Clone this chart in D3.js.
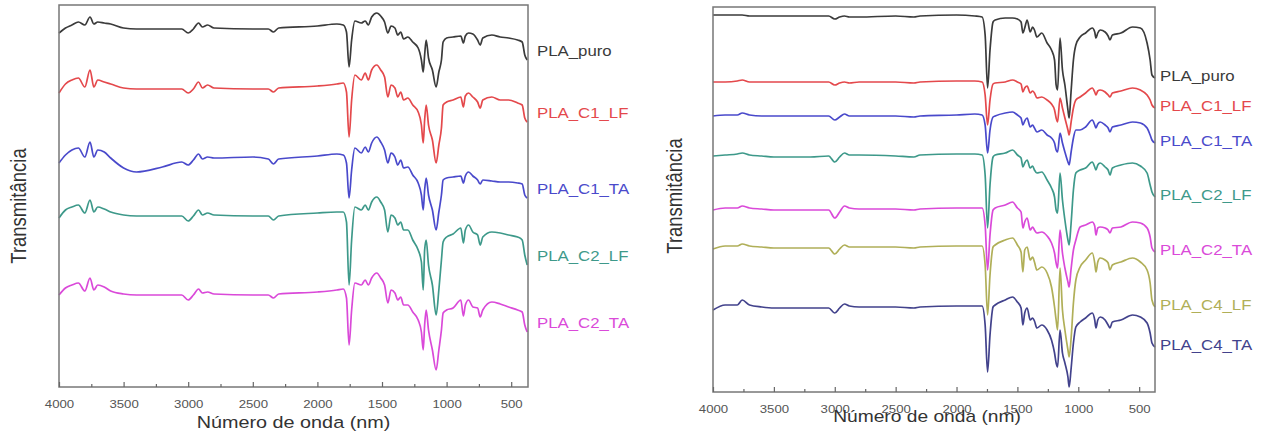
<!DOCTYPE html>
<html><head><meta charset="utf-8">
<script src="https://cdn.jsdelivr.net/npm/d3@7"></script>
<style>body{margin:0;background:#fff} svg{display:block} text{font-family:"Liberation Sans",Arial,sans-serif}</style>
</head><body><svg id="c" width="1269" height="438"></svg>
<script>
// ---------- DATA (transmittance, arbitrary units incl. vertical offset) ----------
const wnLeft = [4000,3950,3900,3850,3800,3760,3730,3700,3650,3600,3500,3400,3200,3050,3000,2960,2920,2890,2850,2800,2500,2380,2340,2300,2000,1850,1800,1775,1755,1735,1710,1660,1630,1606,1580,1540,1510,1480,1455,1430,1400,1378,1355,1333,1300,1262,1220,1195,1181,1170,1158,1140,1110,1081,1060,1040,1027,1000,950,890,870,855,830,797,760,740,720,650,585,520,450,415,395,376];
const leftPuro = [354,359,362,365,362,370,363,365,364,363,359,358,358,358,354,358,364,360,362,359,358,358,355,359,361,363,362,355,320,347,366,364,366,362,370,374,371,365,354,361,359,352,355,348,350,345,339,327,315,332,347,329,317,300,315,327,345,349,350,351,344,351,354,353,347,342,349,352,350,349,347,345,332,327];
const leftC1LF = [294,303,307,309,300,317,300,307,305,303,299,298,298,298,294,298,305,299,302,299,298,298,295,299,301,303,304,295,250,287,312,307,314,307,317,322,317,310,290,302,299,290,295,287,289,282,275,262,244,267,282,262,247,224,242,259,282,285,287,290,280,291,294,290,285,279,287,290,287,287,284,282,269,265];
const leftC1TA = [224,232,237,239,230,245,230,237,235,229,219,215,220,225,222,227,233,228,230,229,230,228,223,228,231,233,232,224,189,217,239,234,240,235,244,250,245,237,224,234,230,222,227,219,220,212,204,192,177,197,209,192,177,157,175,192,207,209,210,211,204,211,215,211,207,203,207,206,205,205,204,203,192,189];
const leftC2LF = [169,177,180,182,174,187,175,180,178,175,172,171,171,171,166,171,177,172,174,172,171,171,167,171,174,175,175,165,102,147,180,177,182,177,185,190,185,177,155,172,169,162,165,157,157,147,137,125,97,137,147,122,102,72,97,127,145,150,153,159,144,157,162,155,152,142,150,155,154,152,150,147,132,122];
const leftC2TA = [92,99,102,104,96,109,97,102,100,96,93,92,92,92,87,92,98,94,95,93,92,92,89,93,95,97,98,89,42,77,104,102,107,102,109,114,109,102,84,97,94,87,90,82,82,75,67,55,37,62,77,57,37,17,37,57,74,77,79,87,71,82,87,80,79,70,77,85,83,80,77,75,62,55];

const wnRight = [4000,3900,3800,3760,3700,3600,3500,3200,3050,3000,2960,2920,2880,2800,2500,2350,2300,2000,1850,1790,1765,1745,1725,1700,1683,1600,1540,1500,1470,1455,1440,1420,1395,1375,1360,1340,1300,1256,1220,1195,1182,1170,1150,1130,1110,1085,1075,1060,1040,1020,985,940,885,865,855,840,820,780,755,740,720,650,555,490,435,410,395,370];
const rightPuro = [377,377,377,377,376,376,376,376,376,373,375,376,375,375,376,375,376,377,376,375,357,304,342,370,372,374,374,373,370,359,364,372,360,365,362,355,359,349,342,332,307,302,354,322,307,282,274,299,332,347,355,359,364,360,354,359,362,360,356,352,357,359,365,364,349,332,317,314];
const rightC1LF = [310,310,311,312,310,310,310,310,310,307,309,310,309,310,310,309,310,311,311,310,297,267,292,308,309,310,312,310,308,300,304,306,299,301,299,294,295,292,288,282,274,270,294,284,274,262,257,269,284,292,295,299,304,300,297,301,302,300,297,295,299,301,304,302,297,292,287,284];
const rightC1TA = [276,277,277,279,277,276,276,276,276,272,275,278,276,276,276,275,276,277,278,277,267,239,262,275,276,279,280,277,274,267,271,274,265,267,264,260,262,257,254,249,242,240,259,249,240,230,227,239,254,262,262,265,272,267,264,268,270,267,264,260,265,267,270,269,264,257,252,249];
const rightC2LF = [236,237,238,239,237,236,235,235,236,230,235,239,237,237,236,235,237,238,238,237,217,164,207,235,237,239,242,237,234,225,229,232,224,226,222,219,220,212,204,195,182,179,219,192,172,152,147,167,202,219,222,224,230,225,222,227,229,225,222,217,224,227,229,226,219,207,200,195];
const rightC2TA = [182,184,184,186,184,183,182,182,182,174,180,186,184,183,183,182,183,184,184,184,167,122,157,182,184,187,190,184,180,164,170,174,162,165,162,159,160,156,149,139,129,124,162,139,124,110,105,122,142,152,165,167,170,166,157,164,165,164,162,159,164,165,170,169,164,155,144,140];
const rightC4LF = [143,146,146,148,146,145,144,144,144,138,143,147,145,145,145,144,145,146,146,146,127,77,117,145,147,152,154,147,140,120,142,145,132,135,130,122,125,119,105,85,72,62,124,82,62,42,35,52,89,112,125,132,139,129,120,130,134,132,129,122,127,130,134,130,122,109,92,85];
const rightC4TA = [82,87,87,92,87,85,84,84,84,79,84,88,86,85,85,84,85,86,86,86,67,20,57,85,87,92,95,90,84,67,79,84,72,74,71,64,67,62,52,39,29,25,62,39,29,15,5,22,49,65,70,74,79,72,64,72,75,72,67,64,70,72,77,75,69,59,49,45];

const leftNames = ["PLA_puro","PLA_C1_LF","PLA_C1_TA","PLA_C2_LF","PLA_C2_TA"];
const rightNames = ["PLA_puro","PLA_C1_LF","PLA_C1_TA","PLA_C2_LF","PLA_C2_TA","PLA_C4_LF","PLA_C4_TA"];
const xTicks = [4000,3500,3000,2500,2000,1500,1000,500];
const xMinorTicks = [3750,3250,2750,2250,1750,1250,750];
const xTitle = "Número de onda (nm)";
const yTitle = "Transmitância";

// ---------- STYLE / LAYOUT ----------
const colors = {
  "PLA_puro":"#3a3a3a","PLA_C1_LF":"#e4484c","PLA_C1_TA":"#4a4acb",
  "PLA_C2_LF":"#3e998a","PLA_C2_TA":"#da4ad9","PLA_C4_LF":"#b0af58","PLA_C4_TA":"#42428c"
};
const SX = 1.2; // horizontal stretch of the original image text
const svg = d3.select("#c");
const defs = svg.append("defs");
defs.append("filter").attr("id","soft").attr("x","-5%").attr("y","-5%").attr("width","110%").attr("height","110%")
  .append("feGaussianBlur").attr("stdDeviation",0.45);

function panel(cfg){
  const x = d3.scaleLinear().domain([4000,370]).range([cfg.x0,cfg.x1]);
  const y = d3.scaleLinear().domain([0,cfg.h]).range([cfg.y1,cfg.y0]);
  const g = svg.append("g");
  const lines = g.append("g").attr("filter","url(#soft)");
  const line = d3.line().x((d,i)=>x(cfg.wn[i])).y(d=>y(d)).curve(d3.curveMonotoneX);
  cfg.series.forEach((vals,k)=>{
    const name = cfg.names[k];
    lines.append("path").attr("d",line(vals)).attr("fill","none")
      .attr("stroke",colors[name]).attr("stroke-width",1.7).attr("stroke-linejoin","round");
    const ly = y(vals[vals.length-1]) + cfg.labelDy;
    g.append("text").attr("transform",`translate(${cfg.x1+cfg.labelDx},${ly}) scale(${SX},1)`)
      .attr("dy","0.35em").attr("fill",colors[name]).style("font-size","14px").text(name);
  });
  g.append("rect").attr("x",cfg.x0).attr("y",cfg.y0).attr("width",cfg.x1-cfg.x0).attr("height",cfg.y1-cfg.y0)
    .attr("fill","none").attr("stroke","#777").attr("stroke-width",1.5);
  const ax = d3.axisBottom(x).tickValues(xTicks).tickFormat(d3.format("d"))
    .tickSizeInner(-5).tickSizeOuter(0).tickPadding(13);
  const axG = g.append("g").attr("transform",`translate(0,${cfg.y1})`).call(ax);
  axG.select(".domain").remove();
  axG.selectAll("line").attr("stroke","#666").attr("stroke-width",1.2);
  axG.selectAll("text").attr("transform",`scale(${SX},1)`).attr("fill","#555")
    .style("font-size","11px").style("font-family",'"Liberation Sans",Arial,sans-serif');
  const mx = d3.axisBottom(x).tickValues(xMinorTicks).tickSizeInner(-3).tickSizeOuter(0).tickFormat("");
  const mG = g.append("g").attr("transform",`translate(0,${cfg.y1})`).call(mx);
  mG.select(".domain").remove();
  mG.selectAll("line").attr("stroke","#666").attr("stroke-width",1.2);
  g.append("text").attr("transform",`translate(${(cfg.x0+cfg.x1)/2+cfg.xtDx},${cfg.xtY}) scale(${SX},1)`)
    .attr("text-anchor","middle").attr("dy","0.35em").attr("fill","#333")
    .style("font-size",cfg.xtSize+"px").text(xTitle);
  g.append("text").attr("transform",`translate(${cfg.ytX},${cfg.ytY}) scale(${SX},1) rotate(-90)`)
    .attr("text-anchor","middle").attr("dy","0.35em").attr("fill","#333")
    .style("font-size","18.5px").text(yTitle);
}

panel({x0:59,x1:528,y0:5,y1:387,h:382,wn:wnLeft,
  series:[leftPuro,leftC1LF,leftC1TA,leftC2LF,leftC2TA],names:leftNames,
  labelDx:9,labelDy:-9,xtY:422,xtDx:0,xtSize:16.5,ytX:18,ytY:206});
panel({x0:713,x1:1155,y0:7,y1:392,h:385,wn:wnRight,
  series:[rightPuro,rightC1LF,rightC1TA,rightC2LF,rightC2TA,rightC4LF,rightC4TA],names:rightNames,
  labelDx:5,labelDy:-2,xtY:416,xtDx:-7,xtSize:16,ytX:674,ytY:196});
</script></body></html>
